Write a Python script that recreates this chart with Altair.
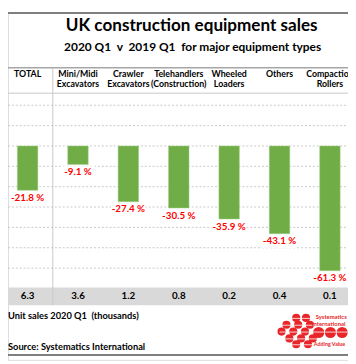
import altair as alt
import pandas as pd

categories = ["TOTAL", "Mini/Midi\nExcavators", "Crawler\nExcavators",
              "Telehandlers\n(Construction)", "Wheeled\nLoaders", "Others",
              "Compaction\nRollers"]
change_pct = [-21.8, -9.1, -27.4, -30.5, -35.9, -43.1, -61.3]
unit_sales = [6.3, 3.6, 1.2, 0.8, 0.2, 0.4, 0.1]
grid_values = [20, 10, 0, -10, -20, -30, -40, -50, -60]

W, H = 348, 356
FONT = "Lato"

df = pd.DataFrame({
    "idx": list(range(len(categories))),
    "cat": categories,
    "pct": change_pct,
    "units": unit_sales,
})
df["pct_label"] = [f"{v:.1f} %" for v in change_pct]
df["units_label"] = [f"{v:.1f}" for v in unit_sales]
df["bg_lo"] = df["idx"] - 0.34
df["bg_hi"] = df["idx"] + 0.34
df["bg_top"] = df["pct"] - 0.9
df["bg_bot"] = df["pct"] - 7.0

grid_df = pd.DataFrame({"g": grid_values})

xs = alt.Scale(domain=[-0.2919, 6.2618], range=[0, W], nice=False, zero=False)
ys = alt.Scale(domain=[-105.1, 65.77], range=[H, 0], nice=False, zero=False)

base = alt.Chart(df)

grid = alt.Chart(grid_df).mark_rule(color="#c8c8c8", strokeWidth=1, strokeDash=[2, 2]).encode(
    y=alt.Y("g:Q", scale=ys, axis=None), x=alt.value(0), x2=alt.value(W))

bars = base.mark_bar(size=21, color="#70ad47", stroke="#a9d18e", strokeWidth=0.5).encode(
    x=alt.X("idx:Q", scale=xs, axis=None),
    y=alt.Y("pct:Q", scale=ys, axis=None),
    y2=alt.datum(0),
)

label_bg = base.mark_rect(color="white").encode(
    x=alt.X("bg_lo:Q", scale=xs, axis=None), x2="bg_hi:Q",
    y=alt.Y("bg_top:Q", scale=ys, axis=None), y2="bg_bot:Q",
)

labels = base.mark_text(color="#ff0000", fontSize=10, fontWeight="bold", font=FONT,
                        baseline="top", dy=3).encode(
    x=alt.X("idx:Q", scale=xs, axis=None),
    y=alt.Y("pct:Q", scale=ys, axis=None),
    text="pct_label:N",
)

def hrule(y, x0, x1, color, width):
    return alt.Chart(df.head(1)).mark_rule(color=color, strokeWidth=width).encode(
        x=alt.value(x0), x2=alt.value(x1), y=alt.value(y))

top_line = hrule(1, 0, W, "#7f7f7f", 2)
head_top = hrule(57, 0, W, "#a6a6a6", 1.5)
head_bot = hrule(83, 0, W, "#c8c8c8", 1)
bottom_line = hrule(351, 0, W, "#7f7f7f", 2)

band = alt.Chart(df.head(1)).mark_rect(color="#d9d9d9").encode(
    x=alt.value(0), x2=alt.value(W), y=alt.value(282), y2=alt.value(300))

separator = alt.Chart(df.head(1)).mark_rule(color="#c8c8c8", strokeWidth=1).encode(
    x=alt.X("sep:Q", scale=xs, axis=None), y=alt.value(57), y2=alt.value(300)
).transform_calculate(sep="0.5")

headers = base.mark_text(fontSize=9, fontWeight="bold", font=FONT, baseline="top",
                         lineBreak="\n", lineHeight=11, color="#000000").encode(
    x=alt.X("idx:Q", scale=xs, axis=None), y=alt.value(59), text="cat:N")

units_txt = base.mark_text(fontSize=10, fontWeight="bold", font=FONT, baseline="middle",
                           color="#000000").encode(
    x=alt.X("idx:Q", scale=xs, axis=None), y=alt.value(291), text="units_label:N")

def txt(s, x, y, size, align="left", color="#000000", weight="bold"):
    return alt.Chart(df.head(1)).mark_text(text=s, fontSize=size, fontWeight=weight,
                                           font=FONT, align=align, baseline="middle",
                                           color=color).encode(
        x=alt.value(x), y=alt.value(y))

title = txt("UK construction equipment sales", 188, 14, 17.5, align="center")
subtitle = txt("2020 Q1\u00a0\u00a0v\u00a0\u00a02019 Q1\u00a0\u00a0for major equipment types",
               189, 36, 12.2, align="center")
unit_note = txt("Unit sales 2020 Q1\u00a0\u00a0(thousands)", 0, 311, 9.5)
source = txt("Source: Systematics International", 0, 343, 9.5)

# logo (decorative)
logo_red = "#e8262a"
small_dots = [(303, 321), (313, 321), (293, 328), (305, 328), (317, 328),
              (288, 335), (300, 335), (312, 335),
              (296, 342), (308, 342), (320, 342), (303, 348), (315, 348)]
big_dots = [(326, 336), (338, 336), (350, 336)]
logo_layers = []
for (lx, ly) in small_dots:
    logo_layers.append(alt.Chart(df.head(1)).mark_point(filled=True, shape="circle",
                       size=70, color=logo_red, opacity=1).encode(
        x=alt.value(lx - 8), y=alt.value(ly - 8)))
for (lx, ly) in big_dots:
    logo_layers.append(alt.Chart(df.head(1)).mark_point(filled=True, shape="circle",
                       size=130, color=logo_red, opacity=1).encode(
        x=alt.value(lx - 8), y=alt.value(ly - 8)))
for ly in [321, 328, 335, 342, 348]:
    logo_layers.append(hrule(ly - 8 + 0.5, 278, 348, "white", 0.8))
logo_layers.append(txt("Systematics", 315, 312, 6, color=logo_red))
logo_layers.append(txt("International", 311, 319, 6, color=logo_red))
logo_layers.append(txt("Adding Value", 313, 340, 5.5, color=logo_red))

chart = alt.layer(
    grid, top_line, head_top, head_bot, band, label_bg, bars, labels, separator, headers,
    units_txt, title, subtitle, unit_note, source, bottom_line, *logo_layers
).properties(
    width=W, height=H, autosize=alt.AutoSizeParams(type="none"), padding=0
).configure_view(stroke=None, clip=False).configure(background="white")

chart.save("out.html", embed_options={"renderer": "svg", "actions": False})
